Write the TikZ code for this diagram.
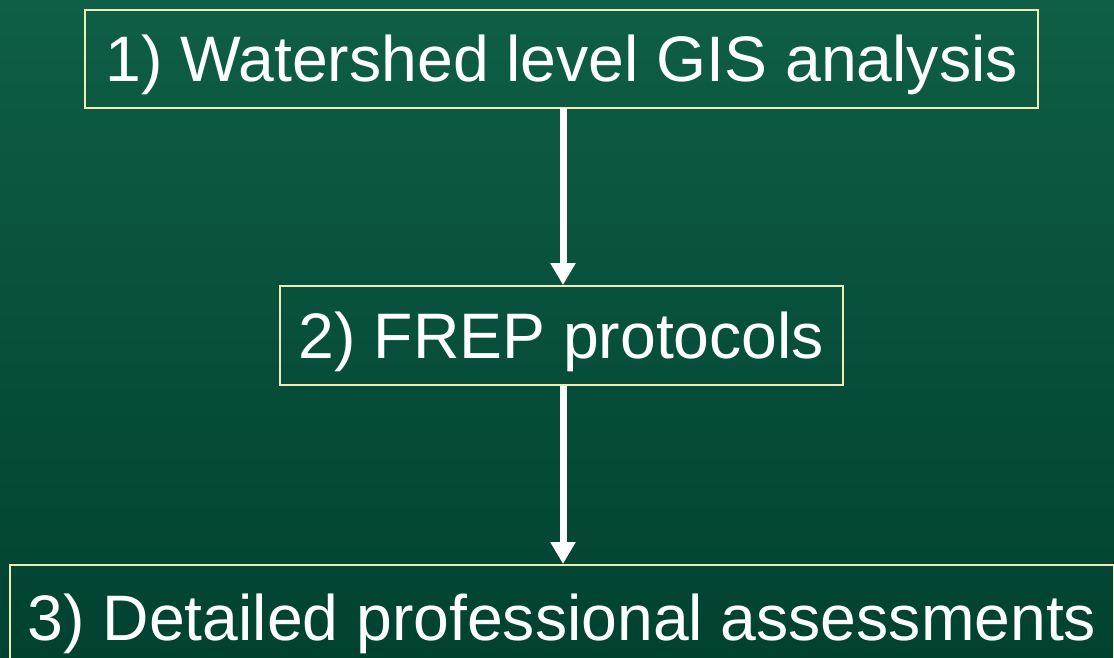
\documentclass[tikz,border=0pt]{standalone}
\usepackage{fontspec}
\setmainfont{Liberation Sans}
\usepackage{xcolor}
\usetikzlibrary{arrows.meta}
\definecolor{boxline}{RGB}{240,236,180}
\definecolor{bgtop}{RGB}{15,94,70}
\definecolor{bgbottom}{RGB}{0,66,48}

\begin{document}
\begin{tikzpicture}[x=1pt,y=-1pt,
		stepbox/.style={draw=boxline,line width=2pt,text=white,inner sep=0pt,
			font=\fontsize{64.3}{64.3}\selectfont,text height=46pt,text depth=0pt},
		flow/.style={-{Triangle[length=22pt,width=24pt]},draw=white,fill=white,line width=7pt}]
		\useasboundingbox (0,0) rectangle (1114,658);
		\clip (0,0) rectangle (1114,658);
		\shade [top color=bgtop,bottom color=bgbottom] (0,0) rectangle (1114,658);
		\node [stepbox,minimum width=953pt,minimum height=98pt] (gis) at (561.5,59) {1) Watershed level GIS analysis};
		\node [stepbox,minimum width=563pt,minimum height=99pt] (frep) at (561.5,335.5) {2) FREP protocols};
		\node [stepbox,minimum width=1104pt,minimum height=104pt] (assess) at (562,617) {3) Detailed professional assessments};
		\draw [flow] (563,108) -- (frep.north -| 563,0);
		\draw [flow] (frep.south -| 563,0) -- (assess.north -| 563,0);
	\end{tikzpicture}
\end{document}
